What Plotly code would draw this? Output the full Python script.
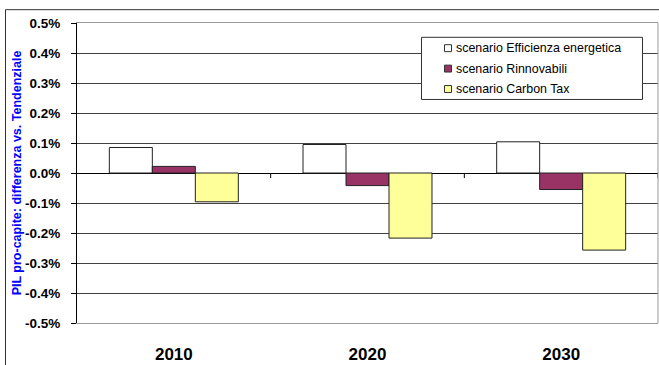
import plotly.graph_objects as go

years = ["2010", "2020", "2030"]
series_names = ["scenario Efficienza energetica", "scenario Rinnovabili", "scenario Carbon Tax"]
efficienza = [0.085, 0.095, 0.104]
rinnovabili = [0.022, -0.042, -0.055]
carbon_tax = [-0.096, -0.217, -0.257]
y_tickvals = [0.5, 0.4, 0.3, 0.2, 0.1, 0.0, -0.1, -0.2, -0.3, -0.4, -0.5]
y_ticktext = ["0.5%", "0.4%", "0.3%", "0.2%", "0.1%", "0.0%", "-0.1%", "-0.2%", "-0.3%", "-0.4%", "-0.5%"]
colors = ["#FFFFFF", "#993366", "#FFFF99"]

FONT = "Liberation Sans, Arial, sans-serif"

fig = go.Figure()
for name, vals, col in zip(series_names, [efficienza, rinnovabili, carbon_tax], colors):
    fig.add_trace(go.Bar(
        x=years, y=vals, name=name, showlegend=False,
        marker=dict(color=col, line=dict(color="#222222", width=1)),
    ))

W, H = 659, 365
L, R, T, B = 77, 1, 23, 38
pw = W - L - R
ph = H - T - B

def px2paper_x(px):
    return (px - L) / pw

def px2paper_y(py):
    return (H - B - py) / ph

shapes = []
annotations = []
# category separator ticks on zero line
for xv in [0.5, 1.5, 2.5]:
    shapes.append(dict(type="line", xref="x", yref="y", x0=xv, x1=xv, y0=0, y1=-0.017,
                       line=dict(color="#000000", width=1)))
# right border of plot area
shapes.append(dict(type="line", xref="paper", yref="paper", x0=1, x1=1, y0=0, y1=1,
                   line=dict(color="#999999", width=1)))
# outer chart border
shapes.append(dict(type="rect", xref="paper", yref="paper",
                   x0=px2paper_x(5.5), x1=px2paper_x(700), y0=px2paper_y(9.5), y1=px2paper_y(400),
                   line=dict(color="#333333", width=1), fillcolor="rgba(0,0,0,0)", layer="below"))

# legend box
shapes.append(dict(type="rect", xref="paper", yref="paper",
                   x0=px2paper_x(421.5), x1=px2paper_x(642.5), y0=px2paper_y(37.5), y1=px2paper_y(100.5),
                   line=dict(color="#333333", width=1), fillcolor="white", layer="above"))
item_y = [48.5, 69.2, 89.9]
for name, col, yc in zip(series_names, colors, item_y):
    shapes.append(dict(type="rect", xref="paper", yref="paper",
                       x0=px2paper_x(444.5), x1=px2paper_x(451.5),
                       y0=px2paper_y(yc - 3.5), y1=px2paper_y(yc + 3.5),
                       line=dict(color="#333333", width=1), fillcolor=col, layer="above"))
    annotations.append(dict(xref="paper", yref="paper", x=px2paper_x(454), y=px2paper_y(yc),
                            xanchor="left", yanchor="middle", showarrow=False, text=name,
                            font=dict(family=FONT, size=12.4, color="#000000")))

fig.update_layout(
    width=W, height=H,
    margin=dict(l=L, r=R, t=T, b=B, pad=0),
    paper_bgcolor="white", plot_bgcolor="white",
    barmode="group", bargap=0.334, bargroupgap=0,
    font=dict(family=FONT, color="#000000"),
    showlegend=False,
    xaxis=dict(
        type="category", range=[-0.5, 2.5],
        showline=True, linecolor="#999999", linewidth=1, mirror=True,
        ticks="", showgrid=False, zeroline=False,
        tickfont=dict(family=FONT, size=17, color="#000000", weight="bold"),
        ticklabelstandoff=16,
    ),
    yaxis=dict(
        range=[-0.5, 0.5], tickvals=y_tickvals, ticktext=y_ticktext,
        ticks="outside", ticklen=5, tickcolor="#000000",
        showline=True, linecolor="#000000", linewidth=1,
        showgrid=True, gridcolor="#404040", gridwidth=1,
        zeroline=True, zerolinecolor="#000000", zerolinewidth=1,
        tickfont=dict(family=FONT, size=13.5, color="#000000", weight="bold"),
        ticklabelstandoff=8,
        title=dict(text="PIL pro-capite: differenza vs. Tendenziale", standoff=0,
                   font=dict(family=FONT, size=12.5, color="#0000FF", weight="bold")),
    ),
    shapes=shapes,
    annotations=annotations,
)

fig.write_html("out.html")
